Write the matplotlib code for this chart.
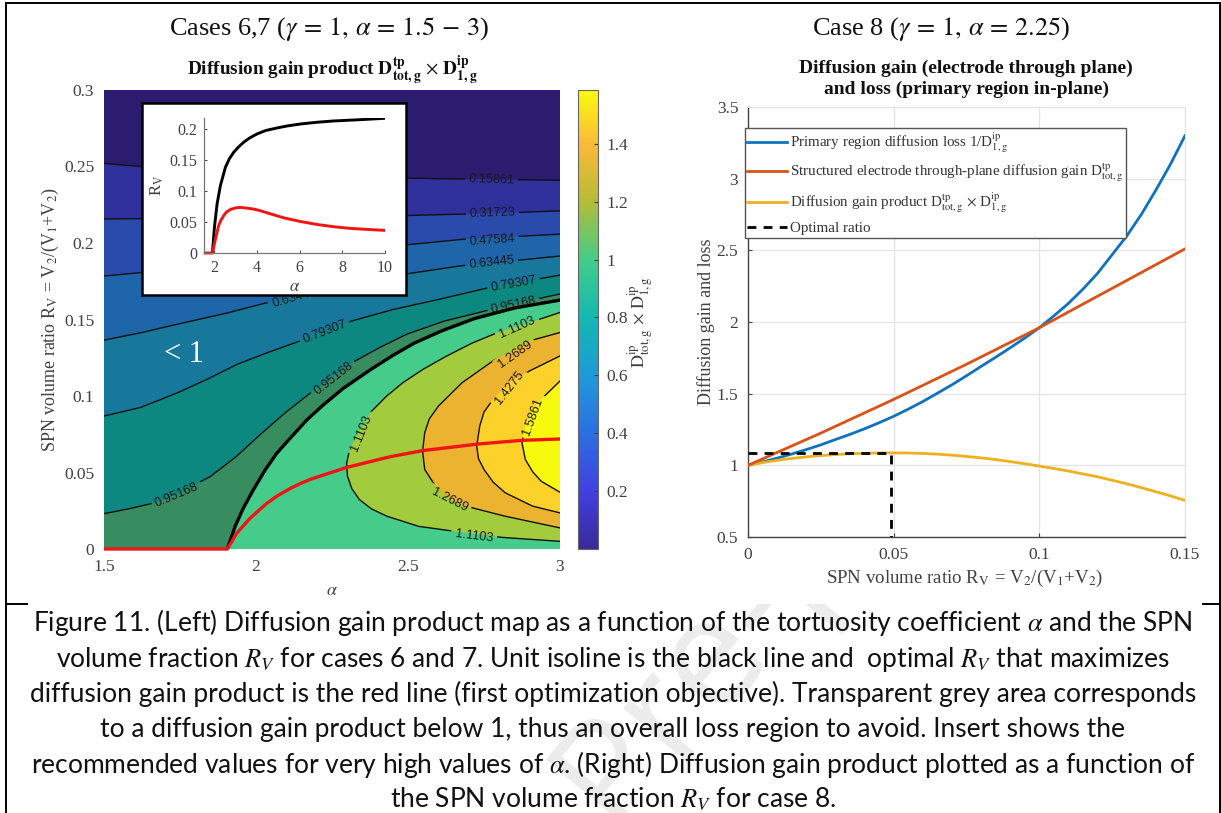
import matplotlib
matplotlib.use("Agg")
import matplotlib.pyplot as plt
from matplotlib.colors import LinearSegmentedColormap, Normalize
from matplotlib.cm import ScalarMappable
from matplotlib.lines import Line2D
from matplotlib.path import Path
from matplotlib.transforms import Bbox, IdentityTransform
import numpy as np

W, H = 1221, 813
plt.rcParams['font.family'] = ['Liberation Serif', 'DejaVu Serif']
plt.rcParams['mathtext.fontset'] = 'stix'
GREY = '#404040'

# ---------- left map: isolines (alpha, R_V) ----------
iso_015 = ([1.5, 1.8, 2.2, 2.6, 3.0], [.252, .247, .244, .242, .241])
iso_032 = ([1.5, 2.0, 2.5, 2.78, 3.0], [.2157, .2165, .218, .2194, .221])
iso_048 = ([1.5, 1.8, 2.1, 2.5, 2.68, 3.0], [.1784, .184, .190, .1989, .2024, .2058])
iso_063 = ([1.5, 1.62, 1.743, 1.9, 2.04, 2.2, 2.4, 2.678, 2.85, 3.0],
           [.1365, .1413, .147, .154, .1612, .169, .177, .1852, .1885, .1915])
iso_079 = ([1.5, 1.62, 1.743, 1.84, 1.938, 2.04, 2.145, 2.314, 2.45, 2.587, 2.77, 3.0],
           [.0869, .0925, .1022, .111, .1207, .1285, .136, .149, .1565, .1625, .171, .179])
iso_095 = ([1.5, 1.58, 1.665, 1.74, 1.82, 1.849, 1.932, 2.019, 2.1, 2.178, 2.25, 2.327, 2.41, 2.496, 2.62, 2.756, 2.88, 3.0],
           [.0231, .0262, .0301, .0355, .0443, .0473, .0599, .0757, .0897, .1018, .1125, .123, .132, .1404, .149, .1557, .1615, .1667])
iso_unit = ([1.9057, 1.931, 1.958, 1.991, 2.03, 2.068, 2.112, 2.167, 2.221, 2.287, 2.375, 2.45, 2.52, 2.61, 2.717, 2.85, 3.0],
            [0, .0146, .0266, .0386, .0516, .0625, .0723, .0843, .0941, .105, .117, .1265, .1345, .1425, .1505, .1575, .1627])
iso_111 = ([3.0, 2.9, 2.795, 2.71, 2.626, 2.55, 2.483, 2.43, 2.38, 2.34, 2.308, 2.298, 2.301, 2.315, 2.34, 2.38, 2.431, 2.535, 2.652, 2.808, 3.0],
           [.1546, .1480, .1415, .1345, .126, .1175, .1087, .100, .09, .0775, .065, .056, .0476, .0395, .0323, .0262, .0214, .0148, .0116, .0076, .005])
iso_127 = ([3.0, 2.9, 2.78, 2.678, 2.6, 2.57, 2.555, 2.548, 2.555, 2.587, 2.63, 2.69, 2.82, 3.0],
           [.1415, .136, .123, .1087, .0934, .085, .076, .064, .052, .0421, .034, .028, .0214, .0138])
iso_143 = ([3.0, 2.9, 2.83, 2.78, 2.75, 2.736, 2.726, 2.732, 2.75, 2.78, 2.82, 2.91, 3.0],
           [.1262, .1164, .1085, .0978, .0895, .0803, .0672, .059, .052, .0437, .0367, .028, .0236])
iso_159 = ([3.0, 2.938, 2.905, 2.886, 2.875, 2.886, 2.91, 2.938, 3.0],
           [.1098, .0978, .090, .0803, .0694, .0585, .0505, .0443, .0371])
red_a = [1.5, 1.9057, 1.936, 1.98, 2.035, 2.07, 2.112, 2.145, 2.178, 2.298, 2.441, 2.548, 2.73, 2.873, 3.0]
red_r = [0, 0, .0102, .02, .0298, .0347, .0395, .0427, .0455, .0533, .0603, .0643, .0686, .071, .0719]

lower_levels = [iso_015, iso_032, iso_048, iso_063, iso_079, iso_095]
lower_cols = ['#30309c', '#2a4bac', '#1e66a9', '#17789c', '#0c8880', '#378c60']
upper_levels = [iso_111, iso_127, iso_143, iso_159]
upper_cols = ['#a2cb3e', '#ecb331', '#fcd22a', '#f8fa0d']
unit_col = '#45cc8b'
top_col = '#2b1c70'

# level index, text, alpha, R_V, rotation
contour_labels = [
    (0, '0.15861', 2.775, .2412, -2), (1, '0.31723', 2.778, .2194, 2),
    (2, '0.47584', 2.778, .2015, 4), (3, '0.63445', 2.775, .1874, 6),
    (4, '0.79307', 2.847, .1732, 10), (5, '0.95168', 2.847, .1595, 12),
    (3, '0.63445', 2.126, .1643, 16), (4, '0.79307', 2.226, .1416, 21),
    (5, '0.95168', 2.256, .1113, 38), (5, '0.95168', 1.74, .0351, 23),
    (6, '1.1103', 2.347, .0758, 68), (6, '1.1103', 2.86, .1449, 24),
    (6, '1.1103', 2.717, .0083, -7), (7, '1.2689', 2.853, .1275, 35),
    (7, '1.2689', 2.636, .0322, -27), (8, '1.4275', 2.834, .1052, 52),
    (9, '1.5861', 2.909, .0867, 70),
]

map_xticks = [1.5, 2, 2.5, 3]
map_xticklabels = ['1.5', '2', '2.5', '3']
map_yticks = [0, .05, .1, .15, .2, .25, .3]
map_yticklabels = ['0', '0.05', '0.1', '0.15', '0.2', '0.25', '0.3']
cbar_ticks = [.2, .4, .6, .8, 1, 1.2, 1.4]
cbar_ticklabels = ['0.2', '0.4', '0.6', '0.8', '1', '1.2', '1.4']
cbar_stops = [(0, '#3a2a9a'), (.126, '#4240e0'), (.252, '#2a70e0'), (.378, '#1f9ada'),
              (.504, '#12b8b0'), (.63, '#45cc8b'), (.757, '#b4bc38'), (.883, '#fbb93a'), (1, '#f9fb0e')]

# ---------- inset ----------
ins_black_a = [1.906, 2.0, 2.125, 2.28, 2.515, 2.7, 2.905, 3.13, 3.37, 3.65, 4.0, 4.4, 4.93, 5.4, 6.02, 6.8, 7.58, 8.83, 10]
ins_black_r = [0, .0418, .0794, .1088, .1383, .152, .1625, .171, .1786, .1855, .192, .1975, .2016, .2048, .208, .2108, .2129, .215, .2172]
ins_red_a = [1.5, 1.906, 2.05, 2.2, 2.3, 2.44, 2.58, 2.75, 3.0, 3.22, 3.5, 3.84, 4.15, 4.46, 5.24, 6.02, 6.8, 7.58, 8.37, 9.14, 10]
ins_red_r = [0, 0, .0231, .0445, .0525, .0606, .0665, .0702, .0728, .0735, .0725, .0708, .0682, .0649, .0568, .0509, .0461, .0424, .0397, .0381, .0365]
ins_xticks = [2, 4, 6, 8, 10]
ins_yticks = [0, .05, .1, .15, .2]
ins_yticklabels = ['0', '0.05', '0.1', '0.15', '0.2']

# ---------- right chart ----------
rv_blue = [0, .005, .01, .015, .02, .025, .03, .035, .04, .045, .05, .055, .06, .065, .07, .075, .08, .085, .09, .095,
           .1, .105, .11, .115, .12, .125, .13, .135, .14, .145, .15]
loss_blue = [1, 1.024, 1.05, 1.079, 1.11, 1.143, 1.18, 1.216, 1.255, 1.297, 1.342, 1.392, 1.445, 1.503, 1.562, 1.625, 1.69, 1.754, 1.82, 1.888,
             1.96, 2.043, 2.13, 2.23, 2.34, 2.47, 2.6, 2.75, 2.92, 3.1, 3.3]
rv_orange = [0, .025, .05, .075, .1, .125, .15]
gain_orange = [1, 1.225, 1.46, 1.705, 1.96, 2.235, 2.51]
rv_yellow = [0, .005, .01, .015, .02, .025, .03, .035, .04, .045, .05, .055, .06, .065, .07, .075, .08, .085, .09, .095,
             .1, .105, .11, .115, .12, .125, .13, .135, .14, .145, .15]
prod_yellow = [1, 1.019, 1.035, 1.048, 1.059, 1.068, 1.075, 1.081, 1.084, 1.086, 1.087, 1.086, 1.083, 1.078, 1.071, 1.062, 1.052, 1.04, 1.026, 1.011,
               .995, .978, .96, .94, .92, .896, .871, .844, .816, .787, .755]
opt_rv = [0, .049, .049]
opt_val = [1.086, 1.086, .5]
line_xticks = [0, .05, .1, .15]
line_xticklabels = ['0', '0.05', '0.1', '0.15']
line_yticks = [.5, 1, 1.5, 2, 2.5, 3, 3.5]
line_yticklabels = ['0.5', '1', '1.5', '2', '2.5', '3', '3.5']

caption = [
    r"Figure 11. (Left) Diffusion gain product map as a function of the tortuosity coefficient $\alpha$ and the SPN",
    r"volume fraction $R_V$ for cases 6 and 7. Unit isoline is the black line and  optimal $R_V$ that maximizes",
    r"diffusion gain product is the red line (first optimization objective). Transparent grey area corresponds",
    r"to a diffusion gain product below 1, thus an overall loss region to avoid. Insert shows the",
    r"recommended values for very high values of $\alpha$. (Right) Diffusion gain product plotted as a function of",
    r"the SPN volume fraction $R_V$ for case 8.",
]
caption_y = [622, 659, 694, 729, 764, 799]

fig = plt.figure(figsize=(W / 100, H / 100), dpi=100, facecolor='white')


def axpx(l, t, r, b, **kw):
    return fig.add_axes([l / W, 1 - b / H, (r - l) / W, (b - t) / H], **kw)


def ftext(x, y, s, **kw):
    kw.setdefault('ha', 'center')
    kw.setdefault('va', 'center')
    return fig.text(x / W, 1 - y / H, s, **kw)


# watermark, behind everything and cut where the chart image starts
wm = ftext(615, 830, 'Pre-proof', ha='left', va='baseline', rotation=50, rotation_mode='anchor',
           fontsize=110, color='#ececec', family='Open Sans', zorder=-5)
wm.set_clip_box(Bbox([[0, 0], [W, H - 604]]))
wm.set_clip_on(True)

# frame of the document table
for xs, ys in [([6, W], [3, 3]), ([6, 6], [3, H]), ([1219.5, 1219.5], [3, H]),
               ([6, 27], [604, 604]), ([1203, W], [604, 604])]:
    fig.add_artist(Line2D([x / W for x in xs], [1 - y / H for y in ys], color='black', lw=1.4))

ftext(329, 29, r'Cases 6,7 ($\gamma\,=\,1,\,\alpha\,=\,1.5\,-\,3$)', fontsize=19, color='#111111')
ftext(941, 29, r'Case 8 ($\gamma\,=\,1,\,\alpha\,=\,2.25$)', fontsize=19, color='#111111')
ftext(332, 71, r'Diffusion gain product $\mathbf{D_{tot,g}^{tp}}$ $\times$ $\mathbf{D_{1,g}^{ip}}$',
      fontsize=13.9, fontweight='bold', color='#111111')
ftext(966, 79, 'Diffusion gain (electrode through plane)\nand loss (primary region in-plane)',
      fontsize=14, fontweight='bold', color='#111111', linespacing=1.25)

# ---------- left map ----------
ax = axpx(104, 90, 560, 549)
ax.set_facecolor(top_col)
ax.set_xlim(1.5, 3)
ax.set_ylim(0, .3)
for (xs, ys), col in zip(lower_levels, lower_cols):
    ax.fill(list(xs) + [3, 1.5], list(ys) + [0, 0], color=col, lw=0, zorder=1)
ax.fill(list(iso_unit[0]) + [3], list(iso_unit[1]) + [0], color=unit_col, lw=0, zorder=1)
for (xs, ys), col in zip(upper_levels, upper_cols):
    ax.fill(xs, ys, color=col, lw=0, zorder=1)

# every isoline is broken under its own labels, as the contour labels of the reference are
outer = Path(np.array([[104, H - 549], [560, H - 549], [560, H - 90], [104, H - 90], [104, H - 549]], float), closed=True)
all_levels = lower_levels + upper_levels
for idx, (xs, ys) in enumerate(all_levels):
    parts = [outer]
    for li, s, a, r, rot in contour_labels:
        if li != idx:
            continue
        cx, cy = ax.transData.transform((a, r))
        hw, hh = len(s) * 3.35 + 3, 7.5
        th = np.deg2rad(rot)
        corners = np.array([[-hw, -hh], [-hw, hh], [hw, hh], [hw, -hh], [-hw, -hh]])
        rotm = np.array([[np.cos(th), -np.sin(th)], [np.sin(th), np.cos(th)]])
        parts.append(Path(corners @ rotm.T + [cx, cy], closed=True))
    ln, = ax.plot(xs, ys, color='#111111', lw=1.0, zorder=2)
    ln.set_clip_path(Path.make_compound_path(*parts), IdentityTransform())
ax.plot(iso_unit[0], iso_unit[1], color='black', lw=2.4, zorder=3)
ax.plot(red_a, red_r, color='#f01414', lw=2.4, zorder=4, clip_on=False, solid_capstyle='butt')
for li, s, a, r, rot in contour_labels:
    ax.text(a, r, s, rotation=rot, rotation_mode='anchor', ha='center', va='center', fontsize=9.2,
            family='Liberation Sans', color='#1a1a1a', zorder=5)
ax.text(1.763, .1268, '< 1', color='white', fontsize=22, ha='center', va='center', zorder=6)
ax.set_xticks(map_xticks, map_xticklabels)
ax.set_yticks(map_yticks, map_yticklabels)
ax.tick_params(length=0, labelsize=12.5, labelcolor=GREY, pad=7)
for s in ax.spines.values():
    s.set_visible(False)
ftext(332, 590, r'$\alpha$', fontsize=13, color=GREY)
ftext(50, 320, r'SPN volume ratio R$_{\mathrm{V}}$ = V$_{2}$/(V$_{1}$+V$_{2}$)', rotation=90,
      fontsize=13, color=GREY)

# colorbar
cax = axpx(578, 90, 598, 549)
cmap = LinearSegmentedColormap.from_list('parula_like', cbar_stops)
cb = fig.colorbar(ScalarMappable(Normalize(0, 1.586), cmap), cax=cax)
cb.set_ticks(cbar_ticks, labels=cbar_ticklabels)
cb.ax.tick_params(direction='in', length=3, width=.8, color=GREY, labelsize=12.5, labelcolor=GREY, pad=6)
cb.outline.set_edgecolor('#666666')
cb.outline.set_linewidth(.8)
ftext(641, 322, r'$\mathrm{D_{tot,g}^{ip}}$ $\times$ $\mathrm{D_{1,g}^{ip}}$', rotation=90, fontsize=13, color=GREY)

# inset
box = axpx(141.5, 103, 405.5, 295, zorder=10)
box.set_xticks([])
box.set_yticks([])
for s in box.spines.values():
    s.set_linewidth(1.8)
    s.set_color('black')
ia = axpx(204, 118, 385, 253, zorder=11)
ia.set_xlim(1.51, 10)
ia.set_ylim(0, .2177)
ia.plot(ins_black_a, ins_black_r, color='black', lw=2.1)
ia.plot(ins_red_a, ins_red_r, color='#f01414', lw=2.1, clip_on=False, solid_capstyle='butt')
ia.set_xticks(ins_xticks, [str(v) for v in ins_xticks])
ia.set_yticks(ins_yticks, ins_yticklabels)
ia.tick_params(direction='in', length=2, width=.7, color=GREY, labelsize=11.5, labelcolor=GREY, pad=5)
ia.spines['top'].set_visible(False)
ia.spines['right'].set_visible(False)
for k in ('left', 'bottom'):
    ia.spines[k].set_color('#777777')
    ia.spines[k].set_linewidth(.9)
ia.set_xlabel(r'$\alpha$', fontsize=12, color=GREY, labelpad=2)
ia.set_ylabel(r'R$_{\mathrm{V}}$', fontsize=12, color=GREY, labelpad=2)

# ---------- right chart ----------
ar = axpx(748, 107, 1185, 537)
ar.set_xlim(0, .15)
ar.set_ylim(.5, 3.5)
h1, = ar.plot(rv_blue, loss_blue, color='#0f72bd', lw=2, label=r'Primary region diffusion loss 1/D$_{\mathrm{1,g}}^{\mathrm{ip}}$', zorder=3)
h2, = ar.plot(rv_orange, gain_orange, color='#d95319', lw=2, label=r'Structured electrode through-plane diffusion gain D$_{\mathrm{tot,g}}^{\mathrm{tp}}$', zorder=4)
h3, = ar.plot(rv_yellow, prod_yellow, color='#edb120', lw=2, label=r'Diffusion gain product D$_{\mathrm{tot,g}}^{\mathrm{tp}}$ $\times$ D$_{\mathrm{1,g}}^{\mathrm{ip}}$', zorder=3)
h4, = ar.plot(opt_rv, opt_val, color='black', lw=2, ls=(0, (3.2, 2.6)), label='Optimal ratio', zorder=5)
ar.set_xticks(line_xticks, line_xticklabels)
ar.set_yticks(line_yticks, line_yticklabels)
ar.grid(True, color='#e4e4e4', lw=.9)
ar.set_axisbelow(True)
ar.tick_params(direction='in', length=3, width=.8, color=GREY, labelsize=12.5, labelcolor=GREY, pad=7)
for k in ('top', 'right'):
    ar.spines[k].set_color('#e4e4e4')
for k in ('left', 'bottom'):
    ar.spines[k].set_color('#444444')
    ar.spines[k].set_linewidth(1.0)
ftext(706, 322, 'Diffusion gain and loss', rotation=90, fontsize=13, color=GREY)
ftext(965, 578, r'SPN volume ratio R$_{\mathrm{V}}$ = V$_{2}$/(V$_{1}$+V$_{2}$)', fontsize=13.6, color=GREY)
leg = ar.legend(handles=[h1, h2, h3, h4], loc='upper left',
                bbox_to_anchor=(744.5 / W, 1 - 128 / H), bbox_transform=fig.transFigure,
                fontsize=10.8, frameon=True, fancybox=False, framealpha=1, edgecolor='#555555',
                borderpad=.18, labelspacing=.42, handlelength=2.65, handletextpad=.2, borderaxespad=0)
leg.get_frame().set_linewidth(1.0)
leg.set_zorder(20)
for t in leg.get_texts():
    t.set_color('#333333')

# caption
for line, y in zip(caption, caption_y):
    ftext(613, y, line, fontsize=19, family='Lato', color='#111111')

fig.savefig('out.png', dpi=100)
